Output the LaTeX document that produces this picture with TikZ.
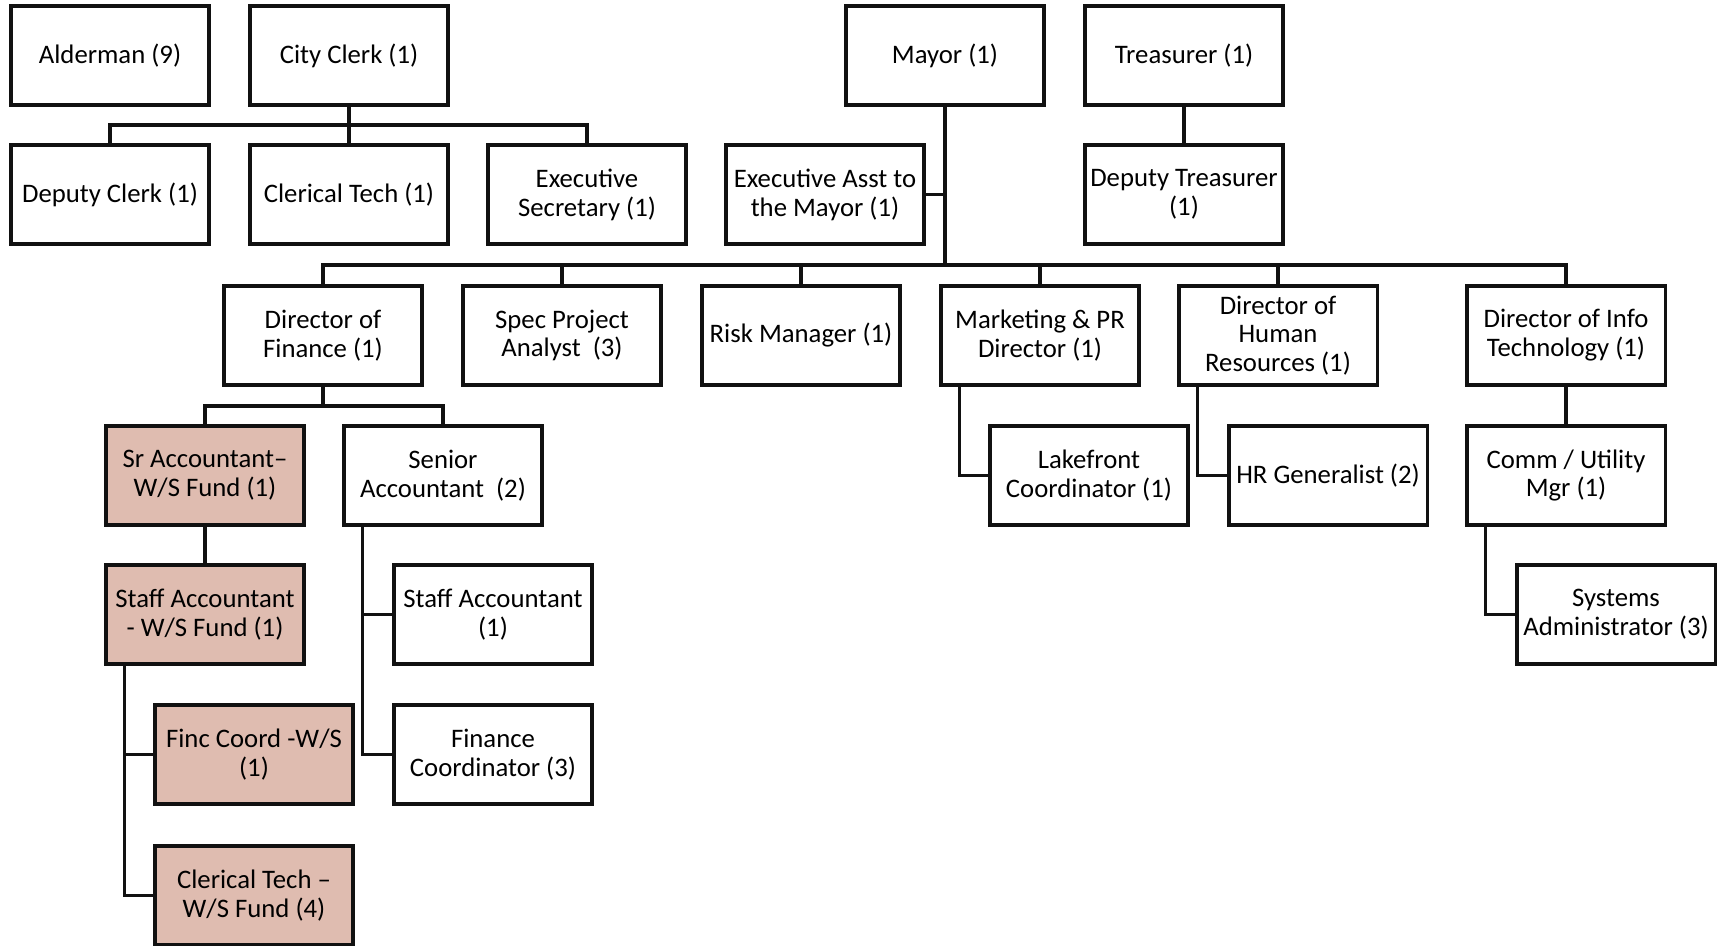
\documentclass[tikz,border=0pt]{standalone}
\usepackage{fontspec}
\setmainfont{Carlito}
\usepackage{tikz}
\definecolor{wsfund}{HTML}{DFBCB0}
\definecolor{linek}{HTML}{111111}

\begin{document}
\begin{tikzpicture}[x=0.01cm, y=-0.01cm,
    role/.style={draw=linek, line width=0.9pt, fill=white, minimum width=1.98cm, minimum height=0.99cm, inner sep=1pt, align=center, font=\fontsize{7.6pt}{8.2pt}\selectfont},
    wsrole/.style={role, fill=wsfund},
    link/.style={draw=linek, line width=0.9pt}]
    \useasboundingbox (0,0) rectangle (1725,946);
    \node[role] (alder) at (110,55.5) {Alderman (9)};
    \node[role] (clerk) at (349,55.5) {City Clerk (1)};
    \node[role] (mayor) at (945,55.5) {Mayor (1)};
    \node[role] (treas) at (1184,55.5) {Treasurer (1)};
    \node[role] (dclerk) at (110,194.5) {Deputy Clerk (1)};
    \node[role] (ctech) at (349,194.5) {Clerical Tech (1)};
    \node[role] (esec) at (587,194.5) {Executive\\Secretary (1)};
    \node[role] (easst) at (825,194.5) {Executive Asst to\\the Mayor (1)};
    \node[role] (dtreas) at (1184,194.5) {Deputy Treasurer\\(1)};
    \node[role] (fin) at (323,335.5) {Director of\\Finance (1)};
    \node[role] (spec) at (562,335.5) {Spec Project\\Analyst\ \ (3)};
    \node[role] (risk) at (801,335.5) {Risk Manager (1)};
    \node[role] (mkt) at (1040,335.5) {Marketing \& PR\\Director (1)};
    \node[role] (hrd) at (1278,335.5) {Director of\\Human\\Resources (1)};
    \node[role] (itd) at (1566,335.5) {Director of Info\\Technology (1)};
    \node[wsrole] (sraw) at (205,475.5) {Sr Accountant--\\W/S Fund (1)};
    \node[role] (sra) at (443,475.5) {Senior\\Accountant\ \ (2)};
    \node[role] (lake) at (1089,475.5) {Lakefront\\Coordinator (1)};
    \node[role] (hrg) at (1328,475.5) {HR Generalist (2)};
    \node[role] (comm) at (1566,475.5) {Comm / Utility\\Mgr (1)};
    \node[wsrole] (sfaw) at (205,614.5) {Staff Accountant\\- W/S Fund (1)};
    \node[role] (sfa) at (493,614.5) {Staff Accountant\\(1)};
    \node[role] (sysad) at (1616,614.5) {Systems\\Administrator (3)};
    \node[wsrole] (fcw) at (254,754.5) {Finc Coord -W/S\\(1)};
    \node[role] (fco) at (493,754.5) {Finance\\Coordinator (3)};
    \node[wsrole] (ctw) at (254,895.5) {Clerical Tech --\\W/S Fund (4)};
    \coordinate (cbus) at (349,125);
    \coordinate (mbus) at (945,265);
    \coordinate (fbus) at (323,406);
    \draw[link] (clerk) -- (ctech);
    \draw[link] (dclerk.north) |- (cbus) -| (esec.north);
    \draw[link] (treas) -- (dtreas);
    \draw[link] (mayor.south) -- (mbus);
    \draw[link] (easst.east) -- (easst.east -| mbus);
    \draw[link] (fin.north) |- (mbus) -| (itd.north);
    \foreach \n in {spec,risk,mkt,hrd}
      \draw[link] (\n.north) -- (\n.north |- mbus);
    \draw[link] (fin.south) -- (fbus);
    \draw[link] (sraw.north) |- (fbus) -| (sra.north);
    \draw[link] (sraw) -- (sfaw);
    \draw[link] ([xshift=0.2cm]sfaw.south west) |- (fcw.west);
    \draw[link] ([xshift=0.2cm]sfaw.south west) |- (ctw.west);
    \draw[link] ([xshift=0.2cm]sra.south west) |- (sfa.west);
    \draw[link] ([xshift=0.2cm]sra.south west) |- (fco.west);
    \draw[link] ([xshift=0.2cm]mkt.south west) |- (lake.west);
    \draw[link] ([xshift=0.2cm]hrd.south west) |- (hrg.west);
    \draw[link] (itd) -- (comm);
    \draw[link] ([xshift=0.2cm]comm.south west) |- (sysad.west);
\end{tikzpicture}
\end{document}
